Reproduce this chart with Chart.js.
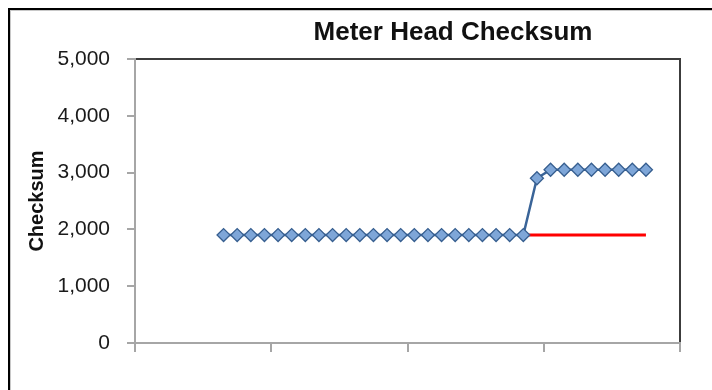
<!DOCTYPE html>
<html>
<head>
<meta charset="utf-8">
<title>Meter Head Checksum</title>
<script src="https://cdn.jsdelivr.net/npm/chart.js@4.4.1/dist/chart.umd.min.js"></script>
<style>
  html, body { margin: 0; padding: 0; background: #ffffff; overflow: hidden; }
  #wrap { position: relative; width: 712px; height: 390px; }
</style>
</head>
<body>
<div id="wrap"><canvas id="chart" width="712" height="390"></canvas></div>
<script>
// Readings slots along the horizontal axis (40 slots, no printed labels)
const slots = ['1','2','3','4','5','6','7','8','9','10',
               '11','12','13','14','15','16','17','18','19','20',
               '21','22','23','24','25','26','27','28','29','30',
               '31','32','33','34','35','36','37','38','39','40'];

// Checksum read from the meter head at each slot
const checksum = [null, null, null, null, null, null,
                  1900, 1900, 1900, 1900, 1900, 1900, 1900, 1900, 1900, 1900,
                  1900, 1900, 1900, 1900, 1900, 1900, 1900, 1900, 1900, 1900,
                  1900, 1900, 1900,
                  2900,
                  3050, 3050, 3050, 3050, 3050, 3050, 3050, 3050,
                  null, null];

// Expected checksum, drawn from the last matching reading onwards
const expected = [null, null, null, null, null, null, null, null, null, null,
                  null, null, null, null, null, null, null, null, null, null,
                  null, null, null, null, null, null, null, null,
                  1900, 1900, 1900, 1900, 1900, 1900, 1900, 1900, 1900, 1900,
                  null, null];

const yTicks = { min: 0, max: 5000, step: 1000 };
const titleText = 'Meter Head Checksum';
const yTitle = 'Checksum';

const axisGray = '#a6a6a6';

// Background, outer chart frame, plot-area frame and the chart title
const framePlugin = {
  id: 'frame',
  beforeDraw(chart) {
    const ctx = chart.ctx;
    const a = chart.chartArea;
    ctx.save();
    ctx.fillStyle = '#ffffff';
    ctx.fillRect(0, 0, chart.width, chart.height);
    // outer chart border (runs off the right and bottom edges)
    ctx.strokeStyle = '#000000';
    ctx.lineWidth = 2;
    ctx.strokeRect(9, 9, chart.width + 50, chart.height + 50);
    ctx.strokeStyle = '#c8c8c8';
    ctx.lineWidth = 1;
    ctx.strokeRect(10.5, 10.5, chart.width + 50, chart.height + 50);
    // plot-area frame
    ctx.strokeStyle = '#3c3c3c';
    ctx.lineWidth = 2;
    ctx.strokeRect(a.left, a.top, a.right - a.left, a.bottom - a.top);
    ctx.restore();
  },
  afterDraw(chart, args, opts) {
    const ctx = chart.ctx;
    ctx.save();
    ctx.font = 'bold 26px "Liberation Sans", Arial, sans-serif';
    ctx.fillStyle = '#111111';
    ctx.textAlign = 'center';
    ctx.textBaseline = 'alphabetic';
    ctx.fillText(opts.text, opts.x, opts.y);
    ctx.restore();
  }
};

new Chart(document.getElementById('chart'), {
  type: 'line',
  data: {
    labels: slots,
    datasets: [
      {
        label: 'Checksum',
        data: checksum,
        borderColor: '#3a6498',
        borderWidth: 2.5,
        pointStyle: 'rectRot',
        pointRadius: 6.5,
        pointBackgroundColor: '#7ea6d8',
        pointBorderColor: '#375f90',
        pointBorderWidth: 1.3,
        tension: 0,
        spanGaps: false
      },
      {
        label: 'Expected',
        data: expected,
        borderColor: '#ff0000',
        borderWidth: 3,
        pointRadius: 0,
        tension: 0
      }
    ]
  },
  options: {
    responsive: false,
    animation: false,
    layout: { padding: { left: 8, top: 59, right: 32, bottom: 0 } },
    plugins: {
      legend: { display: false },
      tooltip: { enabled: false },
      title: { display: false },
      frame: { text: titleText, x: 453, y: 40 }
    },
    scales: {
      x: {
        type: 'category',
        offset: true,
        grid: {
          offset: true,
          drawOnChartArea: false,
          drawTicks: true,
          tickLength: 9,
          lineWidth: 2,
          color: (c) => (c.index === undefined || c.index % 10 === 0) ? axisGray : 'rgba(0,0,0,0)'
        },
        border: { display: true, color: axisGray, width: 2 },
        ticks: { display: false, autoSkip: false },
        afterFit(scale) { scale.height = 47; }
      },
      y: {
        min: yTicks.min,
        max: yTicks.max,
        grid: {
          drawOnChartArea: false,
          drawTicks: true,
          tickLength: 8,
          lineWidth: 2,
          color: axisGray
        },
        border: { display: true, color: axisGray, width: 2 },
        ticks: {
          stepSize: yTicks.step,
          padding: 17,
          color: '#1a1a1a',
          font: { family: '"Liberation Sans", Arial, sans-serif', size: 21 },
          callback: (v) => v.toLocaleString('en-US')
        },
        title: {
          display: true,
          text: yTitle,
          color: '#111111',
          padding: { top: 17, bottom: 0 },
          font: { family: '"Liberation Sans", Arial, sans-serif', size: 20, weight: 'bold' }
        },
        afterFit(scale) { scale.width = 127; }
      }
    }
  },
  plugins: [framePlugin]
});
</script>
</body>
</html>
